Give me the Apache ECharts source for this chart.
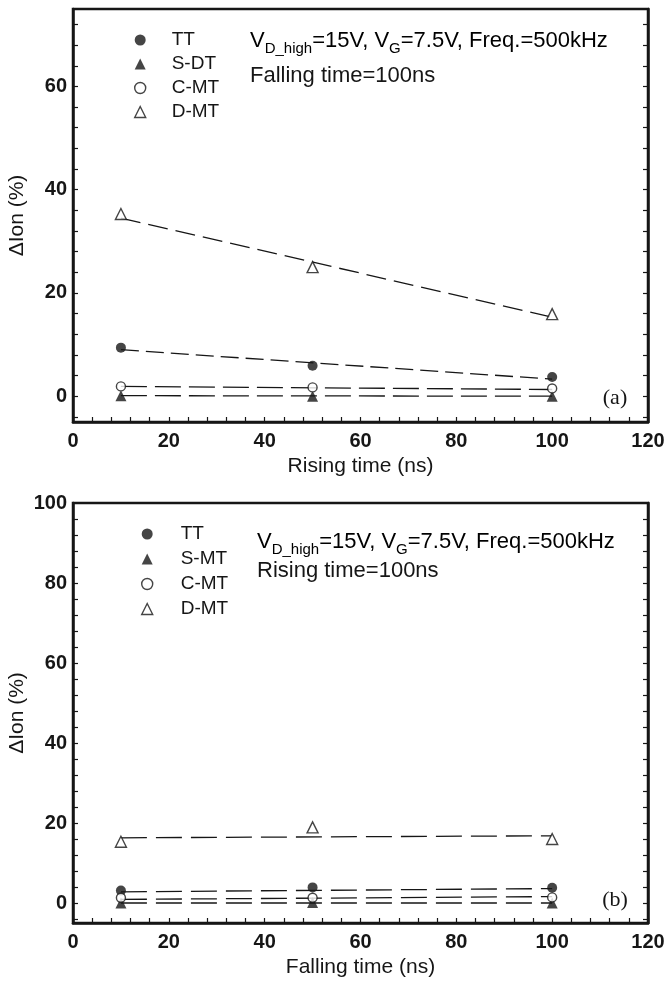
<!DOCTYPE html>
<html>
<head>
<meta charset="utf-8">
<title>ΔIon vs rising / falling time</title>
<script src="https://cdn.jsdelivr.net/npm/echarts@6/dist/echarts.min.js"></script>
<style>
  html, body { margin: 0; padding: 0; background: #fff; }
  #chart { width: 665px; height: 982px; }
</style>
</head>
<body>
<div id="chart"></div>
<script>
// Switching times (ns) at which each structure was measured
const timesNs = [10, 50, 100];
// End points of the dashed linear trend lines
const fitTimesNs = [10, 100];

// Panel (a): falling time fixed at 100 ns, rising time swept
const risingTT = [9.4, 5.9, 3.7];
const risingSDT = [0.1, 0.0, 0.0];
const risingCMT = [1.9, 1.7, 1.5];
const risingDMT = [35.3, 25.0, 15.9];
const risingFitTT = [9.0, 3.3];
const risingFitSDT = [0.1, 0.0];
const risingFitCMT = [1.9, 1.3];
const risingFitDMT = [34.5, 15.3];

// Panel (b): rising time fixed at 100 ns, falling time swept
const fallingTT = [3.1, 3.9, 3.8];
const fallingSMT = [0.0, 0.1, 0.0];
const fallingCMT = [1.3, 1.3, 1.4];
const fallingDMT = [15.3, 18.9, 16.0];
const fallingFitTT = [2.8, 3.6];
const fallingFitSMT = [0.0, 0.0];
const fallingFitCMT = [0.9, 1.6];
const fallingFitDMT = [16.3, 16.8];

// Axis tick labels
const xTickLabels = [0, 20, 40, 60, 80, 100, 120];
const yTickLabelsA = [0, 20, 40, 60];
const yTickLabelsB = [0, 20, 40, 60, 80, 100];

const FONT = 'Liberation Sans, Arial, Helvetica, sans-serif';
const INK = '#161616';

const pairs = (xs, ys) => xs.map((x, i) => [x, ys[i]]);
const stepsOf = (from, to, step) => {
  const out = [];
  for (let v = from; v <= to + 1e-9; v += step) out.push(v);
  return out;
};

// Marker looks for the four device structures
const markerStyles = {
  TT:  { symbol: 'circle',   size: 10, itemStyle: { color: INK } },
  SOL: { symbol: 'triangle', size: 11, itemStyle: { color: INK } },
  CMT: { symbol: 'circle',   size: 9,  itemStyle: { color: '#fff', borderColor: INK, borderWidth: 1.4 } },
  DMT: { symbol: 'triangle', size: 11, itemStyle: { color: '#fff', borderColor: INK, borderWidth: 1.4 } }
};

function scatter(name, kind, values, gridIdx) {
  const m = markerStyles[kind];
  return {
    type: 'scatter', name, xAxisIndex: gridIdx, yAxisIndex: gridIdx * 2,
    data: pairs(timesNs, values), symbol: m.symbol, symbolSize: m.size,
    itemStyle: m.itemStyle, z: 5, silent: true
  };
}
function trend(values, gridIdx, dash) {
  return {
    type: 'line', xAxisIndex: gridIdx, yAxisIndex: gridIdx * 2,
    data: pairs(fitTimesNs, values), showSymbol: false, symbol: 'none',
    lineStyle: { color: INK, width: 1.3, type: dash }, z: 3, silent: true
  };
}

function xAxisFor(gridIdx, title) {
  return {
    type: 'value', gridIndex: gridIdx, min: 0, max: 120, interval: 20,
    name: title, nameLocation: 'middle', nameGap: 34, nameMoveOverlap: false,
    nameTextStyle: { fontFamily: FONT, fontSize: 21, color: INK },
    axisLine: { show: true, onZero: false, lineStyle: { color: INK, width: 2.5 } },
    axisTick: { show: true, inside: true, length: 5, customValues: stepsOf(0, 120, 4), lineStyle: { color: INK, width: 1.2 } },
    axisLabel: { customValues: xTickLabels, margin: 9, fontFamily: FONT, fontSize: 20, fontWeight: 'bold', color: INK },
    splitLine: { show: false }
  };
}
function yAxesFor(gridIdx, min, max, labels, tickTop) {
  const ticks = stepsOf(-4, tickTop, 4);
  return [
    {
      type: 'value', gridIndex: gridIdx, min, max, position: 'left',
      name: 'ΔIon (%)', nameLocation: 'middle', nameGap: 45, nameMoveOverlap: false,
      nameTextStyle: { fontFamily: FONT, fontSize: 21, color: INK },
      axisLine: { show: true, onZero: false, lineStyle: { color: INK, width: 2.5 } },
      axisTick: { show: true, inside: true, length: 5, customValues: ticks, lineStyle: { color: INK, width: 1.2 } },
      axisLabel: { customValues: labels, margin: 6, fontFamily: FONT, fontSize: 20, fontWeight: 'bold', color: INK },
      splitLine: { show: false }
    },
    {
      type: 'value', gridIndex: gridIdx, min, max, position: 'right',
      axisLine: { show: true, onZero: false, lineStyle: { color: INK, width: 2.5 } },
      axisTick: { show: true, inside: true, length: 5, customValues: ticks, lineStyle: { color: INK, width: 1.2 } },
      axisLabel: { show: false },
      splitLine: { show: false }
    }
  ];
}

function legendFor(names, left, top, gap, textPad) {
  const kinds = ['TT', 'SOL', 'CMT', 'DMT'];
  return {
    orient: 'vertical', left, top, itemGap: gap, itemWidth: 11, itemHeight: 11,
    selectedMode: false,
    textStyle: { fontFamily: FONT, fontSize: 19, color: INK, lineHeight: 20, padding: [0, 0, 0, textPad] },
    data: names.map((n, i) => {
      const m = markerStyles[kinds[i]];
      return { name: n, icon: m.symbol, itemStyle: Object.assign({}, m.itemStyle) };
    })
  };
}

// Annotation with subscripted voltages
const rich = {
  m: { fontFamily: FONT, fontSize: 22, color: INK, lineHeight: 24 },
  s: { fontFamily: FONT, fontSize: 15, color: INK, lineHeight: 16, padding: [15, 0, 0, 0] }
};
const biasText = '{m|V}{s|D_high}{m|=15V, V}{s|G}{m|=7.5V, Freq.=500kHz}';

function note(x, y, text, isRich) {
  return {
    type: 'text', x, y, silent: true,
    style: isRich
      ? { text, rich, verticalAlign: 'middle', align: 'left' }
      : { text, fontFamily: FONT, fontSize: 22, fill: INK, verticalAlign: 'middle', align: 'left' }
  };
}
function panelTag(x, y, text) {
  return {
    type: 'text', x, y, silent: true,
    style: { text, fontFamily: 'Liberation Serif, Times New Roman, serif', fontSize: 22, fill: INK, verticalAlign: 'middle', align: 'center' }
  };
}

const gridBase = {
  left: 73, width: 575, show: true, borderColor: INK, borderWidth: 2.5,
  backgroundColor: 'transparent', containLabel: false, outerBoundsMode: 'none'
};

const chart = echarts.init(document.getElementById('chart'), null, { renderer: 'canvas' });
chart.setOption({
  animation: false,
  backgroundColor: '#fff',
  grid: [
    Object.assign({}, gridBase, { top: 9, height: 413 }),
    Object.assign({}, gridBase, { top: 503, height: 420 })
  ],
  xAxis: [xAxisFor(0, 'Rising time (ns)'), xAxisFor(1, 'Falling time (ns)')],
  yAxis: [].concat(yAxesFor(0, -5, 75, yTickLabelsA, 72), yAxesFor(1, -5, 100, yTickLabelsB, 96)),
  legend: [
    legendFor(['TT', 'S-DT', 'C-MT', 'D-MT'], 129, 25, 4, 21),
    legendFor(['TT', 'S-MT', 'C-MT', 'D-MT'], 136, 519, 5, 23)
  ],
  graphic: [
    note(250, 41, biasText, true),
    note(250, 76, 'Falling time=100ns', false),
    note(257, 542, biasText, true),
    note(257, 571, 'Rising time=100ns', false),
    panelTag(615, 398, '(a)'),
    panelTag(615, 900, '(b)')
  ],
  series: [
    trend(risingFitDMT, 0, [20, 8]),
    trend(risingFitTT, 0, [18, 7]),
    trend(risingFitCMT, 0, [26, 8]),
    trend(risingFitSDT, 0, [26, 8]),
    scatter('TT', 'TT', risingTT, 0),
    scatter('S-DT', 'SOL', risingSDT, 0),
    scatter('C-MT', 'CMT', risingCMT, 0),
    scatter('D-MT', 'DMT', risingDMT, 0),

    trend(fallingFitDMT, 1, [26, 9]),
    trend(fallingFitTT, 1, [26, 9]),
    trend(fallingFitCMT, 1, [26, 9]),
    trend(fallingFitSMT, 1, [26, 9]),
    scatter('TT', 'TT', fallingTT, 1),
    scatter('S-MT', 'SOL', fallingSMT, 1),
    scatter('C-MT', 'CMT', fallingCMT, 1),
    scatter('D-MT', 'DMT', fallingDMT, 1)
  ]
});
</script>
</body>
</html>
